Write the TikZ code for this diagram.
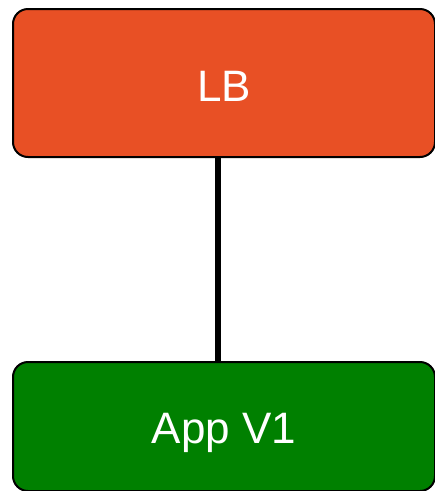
\documentclass[tikz,border=0pt]{standalone}
\usepackage{fontspec}
\setmainfont{Liberation Sans}
\definecolor{lborange}{RGB}{232,80,37}
\definecolor{appgreen}{RGB}{0,128,0}
\begin{document}
\begin{tikzpicture}[x=1pt,y=-1pt,
  tierbox/.style={draw=black, line width=2pt, rounded corners=15pt,
    inner sep=0pt, anchor=north west},
  tierlabel/.style={text=white, anchor=base, inner sep=0pt,
    font=\fontsize{44}{44}\selectfont},
  link/.style={draw=black, line width=6pt}]
  \useasboundingbox (0,0) rectangle (435,491);
  % load balancer
  \node[tierbox, fill=lborange, minimum width=422pt, minimum height=148pt] (lb) at (12,8) {};
  \node[tierlabel] (lbtext) at (224,101) {LB};
  % application
  \node[tierbox, fill=appgreen, minimum width=422pt, minimum height=129pt] (app) at (12,361) {};
  \node[tierlabel] (apptext) at (224,443) {App V1};
  % connection
  \draw[link] (lb.south -| 218,0) -- (app.north -| 218,0);
\end{tikzpicture}
\end{document}
